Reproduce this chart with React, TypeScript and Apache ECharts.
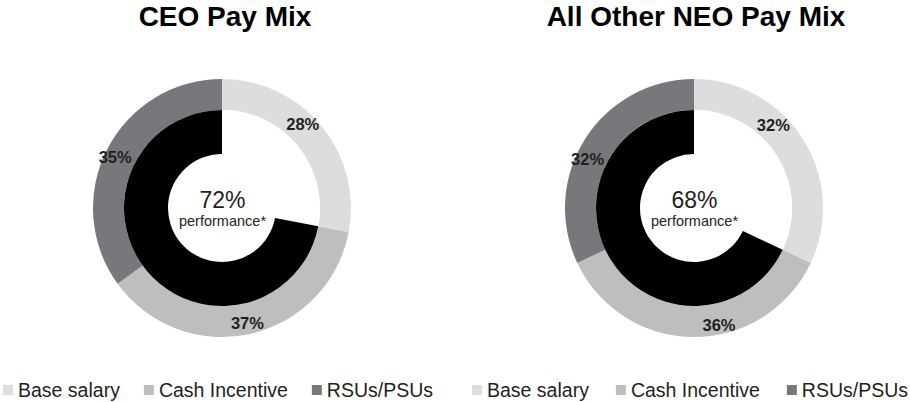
import React, { useEffect, useRef } from "react";
import * as echarts from "echarts";

const categories = ["Base salary", "Cash Incentive", "RSUs/PSUs"];
const ceoValues = [28, 37, 35];
const neoValues = [32, 36, 32];
const chartTitles = ["CEO Pay Mix", "All Other NEO Pay Mix"];
const centerCaption = "performance*";

const COLORS = ["#dcdddf", "#bcbec0", "#77787b"];
const FONT = "'Liberation Sans', Arial, Helvetica, sans-serif";
const TEXT = "#231f20";

// layout / style
const CENTERS: [number, number][] = [
  [222, 208],
  [694, 208],
];
const LABEL_OFFSETS = [
  [
    [-9, -10],
    [0, 1],
    [-3, 2],
  ],
  [
    [-19, -21],
    [25, 0],
    [-8, 13],
  ],
];

export default function App() {
  const ref = useRef<HTMLDivElement>(null);
  useEffect(() => {
    if (!ref.current) return;
    const chart = echarts.init(ref.current, undefined, { renderer: "svg" });
    const all = [ceoValues, neoValues];
    const series: any[] = [];
    const graphic: any[] = [];
    all.forEach((vals, k) => {
      const c = CENTERS[k];
      const perf = vals[1] + vals[2];
      series.push({
        type: "pie",
        name: chartTitles[k],
        center: c,
        radius: [98, 129],
        startAngle: 90,
        clockwise: true,
        avoidLabelOverlap: false,
        silent: true,
        itemStyle: { borderWidth: 0 },
        label: {
          show: true,
          position: "inside",
          formatter: "{c}%",
          fontFamily: FONT,
          fontWeight: "bold",
          fontSize: 16.5,
          color: TEXT,
        },
        labelLine: { show: false },
        labelLayout: (p: any) => ({
          dx: LABEL_OFFSETS[k][p.dataIndex][0],
          dy: LABEL_OFFSETS[k][p.dataIndex][1],
        }),
        data: categories.map((name, i) => ({
          name,
          value: vals[i],
          itemStyle: { color: COLORS[i] },
        })),
      });
      series.push({
        type: "pie",
        name: chartTitles[k] + " performance",
        center: c,
        radius: [54, 98],
        startAngle: 90,
        clockwise: true,
        silent: true,
        itemStyle: { borderWidth: 0 },
        label: { show: false },
        labelLine: { show: false },
        data: [
          { name: "fixed", value: vals[0], itemStyle: { color: "#ffffff" } },
          { name: "performance", value: perf, itemStyle: { color: "#000000" } },
        ],
      });
      graphic.push({
        type: "text",
        x: k === 0 ? 225 : 696,
        y: 16,
        style: {
          text: chartTitles[k],
          font: `bold 28px ${FONT}`,
          fill: "#000",
          textAlign: "center",
          textVerticalAlign: "middle",
        },
      });
      graphic.push({
        type: "text",
        x: c[0] + 0.5,
        y: 200,
        style: {
          text: perf + "%",
          font: `23px ${FONT}`,
          fill: TEXT,
          textAlign: "center",
          textVerticalAlign: "middle",
        },
      });
      graphic.push({
        type: "text",
        x: c[0] + 0.5,
        y: 220.5,
        style: {
          text: centerCaption,
          font: `14.5px ${FONT}`,
          fill: TEXT,
          textAlign: "center",
          textVerticalAlign: "middle",
        },
      });
    });

    const legendBase = {
      orient: "horizontal",
      top: 380,
      itemWidth: 10,
      itemHeight: 10,
      icon: "rect",
      padding: 0,
      selectedMode: false,
      data: categories,
      textStyle: { fontFamily: FONT, fontSize: 19.5, color: TEXT, padding: [0, 0, 0, 0] },
    };

    chart.setOption({
      animation: false,
      legend: [
        { ...legendBase, left: 3, itemGap: 24 },
        { ...legendBase, left: 472, itemGap: 27 },
      ],
      series,
      graphic,
    });
    return () => chart.dispose();
  }, []);
  return (
    <div
      ref={ref}
      style={{ position: "fixed", left: 0, top: 0, width: 910, height: 402, background: "#fff" }}
    />
  );
}
